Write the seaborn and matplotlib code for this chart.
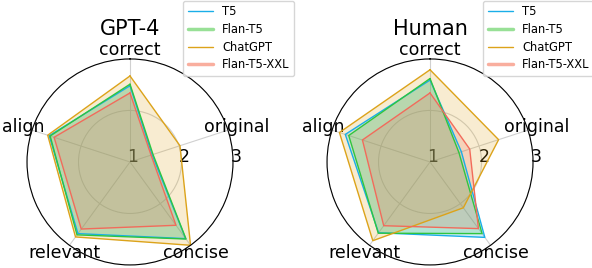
import numpy as np
import pandas as pd
import matplotlib
matplotlib.use("Agg")
import matplotlib.pyplot as plt
from matplotlib.lines import Line2D
from matplotlib.transforms import ScaledTranslation
import seaborn as sns

# Radar chart scores (1-3 scale)
categories = ["correct", "original", "concise", "relevant", "align"]
models = ["T5", "Flan-T5", "ChatGPT", "Flan-T5-XXL"]

gpt4_t5 = [2.48, 1.45, 2.84, 2.72, 2.65]
gpt4_flan = [2.51, 1.47, 2.85, 2.75, 2.63]
gpt4_chatgpt = [2.67, 2.02, 3.00, 2.80, 2.68]
gpt4_xxl = [2.34, 1.43, 2.52, 2.61, 2.55]

human_t5 = [2.59, 1.64, 2.81, 2.70, 2.73]
human_flan = [2.62, 1.59, 2.72, 2.71, 2.66]
human_chatgpt = [2.79, 2.40, 2.10, 2.89, 2.85]
human_xxl = [2.34, 1.81, 2.60, 2.53, 2.38]

colors = {"T5": "#1aaee8", "Flan-T5": "#2fc53f", "ChatGPT": "#dca31a", "Flan-T5-XXL": "#f26b5b"}
legend_colors = {"T5": "#1aaee8", "Flan-T5": "#98e096", "ChatGPT": "#dca31a", "Flan-T5-XXL": "#f9ae9e"}
legend_lw = {"T5": 1.0, "Flan-T5": 2.5, "ChatGPT": 1.0, "Flan-T5-XXL": 2.5}

panels = {
    "GPT-4": [gpt4_t5, gpt4_flan, gpt4_chatgpt, gpt4_xxl],
    "Human": [human_t5, human_flan, human_chatgpt, human_xxl],
}

sns.set_style("white")
plt.rcParams["font.family"] = ["DejaVu Sans"]
plt.rcParams["text.color"] = "black"
plt.rcParams["xtick.color"] = "black"
plt.rcParams["ytick.color"] = "black"

angles = np.linspace(0, 2 * np.pi, len(categories), endpoint=False)

fig = plt.figure(figsize=(5.92, 2.68), dpi=100)
positions = [[0.0456, 0.0112, 0.348, 0.769], [0.5524, 0.0112, 0.348, 0.769]]

for pos, (title, series) in zip(positions, panels.items()):
    ax = fig.add_axes(pos, projection="polar")
    ax.set_theta_offset(np.pi / 2)
    ax.set_theta_direction(-1)

    rows = []
    for name, vals in zip(models, series):
        for a, v in zip(list(angles) + [angles[0] + 2 * np.pi], vals + vals[:1]):
            rows.append({"model": name, "theta": a, "score": v})
    df = pd.DataFrame(rows)

    sns.lineplot(data=df, x="theta", y="score", hue="model", palette=colors,
                 sort=False, estimator=None, linewidth=1.0, legend=False, ax=ax)
    for name in models:
        sub = df[df.model == name]
        ax.fill(sub.theta, sub.score, color=colors[name], alpha=0.2, linewidth=0)

    ax.set_ylim(1, 3)
    ax.set_yticks([1, 2, 3])
    ax.set_yticklabels(["1", "2", "3"], fontsize=12.5)
    ax.set_rlabel_position(90)
    # nudge radial labels a little down/left
    for lbl in ax.get_yticklabels():
        lbl.set_transform(lbl.get_transform() + ScaledTranslation(-2 / 72, -3 / 72, fig.dpi_scale_trans))
    ax.set_xticks(angles)
    ax.set_xticklabels(categories, fontsize=12.5)
    ax.tick_params(axis="x", pad=-4)
    ax.set_xlabel("")
    ax.set_ylabel("")
    ax.grid(color="#d0d0d0", linewidth=0.8)
    ax.spines["polar"].set_color("black")
    ax.spines["polar"].set_linewidth(0.8)
    ax.set_title(title, fontsize=15, pad=4)

    handles = [Line2D([0], [0], color=legend_colors[m], lw=legend_lw[m]) for m in models]
    ax.legend(handles, models, fontsize=8.3, loc="upper left",
              bbox_to_anchor=(0.73, 1.31), frameon=True, handlelength=2.2,
              labelspacing=0.4)

fig.savefig("out.png", dpi=100)
